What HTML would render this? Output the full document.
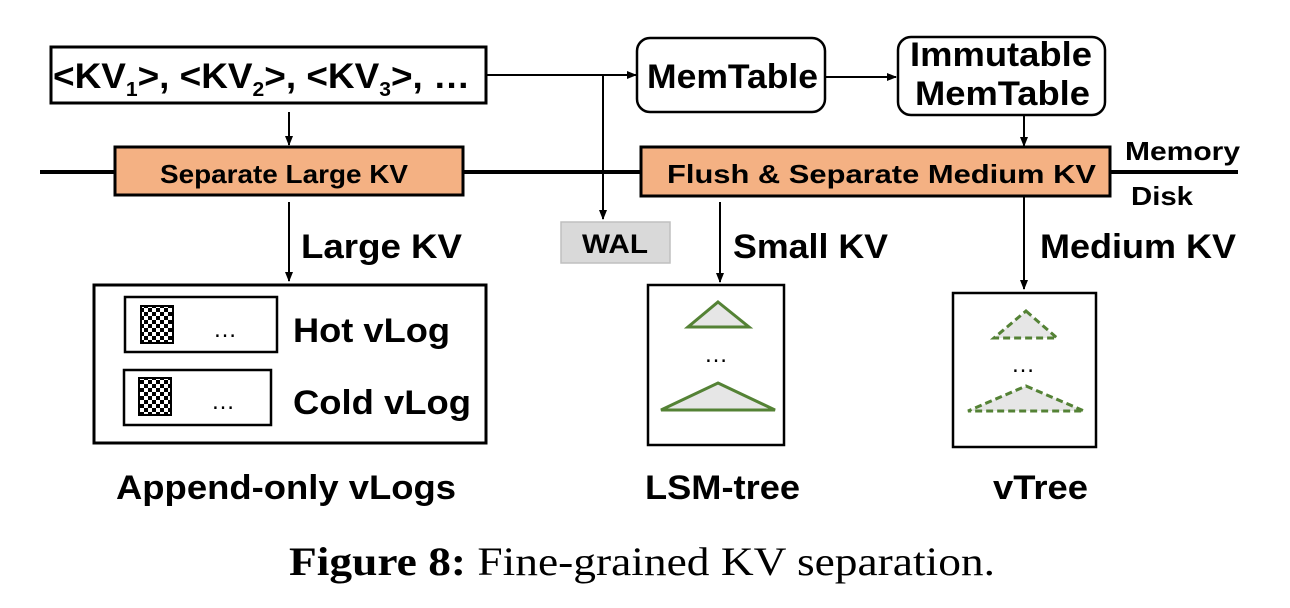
<!DOCTYPE html>
<html><head><meta charset="utf-8"><style>
html,body{margin:0;padding:0;background:#fff;width:1290px;height:608px;overflow:hidden}
svg{display:block}
text{font-family:"Liberation Sans",Arial,sans-serif;font-weight:bold;fill:#000}
</style></head><body>
<svg width="1290" height="608" viewBox="0 0 1290 608" xmlns="http://www.w3.org/2000/svg">
<defs>
<marker id="ah" markerWidth="10" markerHeight="10" refX="9" refY="5" orient="auto" markerUnits="userSpaceOnUse">
<path d="M0,1 L10,5 L0,9 z" fill="#000"/></marker>
<pattern id="ck" width="8" height="8" patternUnits="userSpaceOnUse">
<rect width="8" height="8" fill="#fff"/><rect width="4" height="4" fill="#000"/><rect x="4" y="4" width="4" height="4" fill="#000"/></pattern>
</defs>

<line x1="40" y1="172" x2="1238" y2="172" stroke="#000" stroke-width="4"/>

<rect x="51" y="47" width="435" height="56" fill="#fff" stroke="#000" stroke-width="3"/>
<text x="53" y="88" font-size="35" textLength="417" lengthAdjust="spacingAndGlyphs">&lt;KV<tspan font-size="20" dy="8">1</tspan><tspan dy="-8">&gt;, &lt;KV</tspan><tspan font-size="20" dy="8">2</tspan><tspan dy="-8">&gt;, &lt;KV</tspan><tspan font-size="20" dy="8">3</tspan><tspan dy="-8">&gt;, …</tspan></text>

<line x1="486" y1="75" x2="636" y2="75" stroke="#000" stroke-width="2" marker-end="url(#ah)"/>
<line x1="603" y1="75" x2="603" y2="219" stroke="#000" stroke-width="2" marker-end="url(#ah)"/>
<line x1="826" y1="77" x2="896" y2="77" stroke="#000" stroke-width="2" marker-end="url(#ah)"/>
<line x1="1024" y1="115" x2="1024" y2="146" stroke="#000" stroke-width="2" marker-end="url(#ah)"/>
<line x1="289" y1="112" x2="289" y2="145" stroke="#000" stroke-width="2" marker-end="url(#ah)"/>

<rect x="637" y="38" width="188" height="74" rx="13" fill="#fff" stroke="#000" stroke-width="2.5"/>
<text x="647" y="88" font-size="34" textLength="171" lengthAdjust="spacingAndGlyphs">MemTable</text>
<rect x="898" y="37" width="207" height="78" rx="13" fill="#fff" stroke="#000" stroke-width="2.5"/>
<text x="910" y="66" font-size="34" textLength="182" lengthAdjust="spacingAndGlyphs">Immutable</text>
<text x="915" y="105" font-size="34" textLength="175" lengthAdjust="spacingAndGlyphs">MemTable</text>

<rect x="115" y="147" width="348" height="48" fill="#f4b183" stroke="#000" stroke-width="3"/>
<text x="160" y="183" font-size="26" textLength="248" lengthAdjust="spacingAndGlyphs">Separate Large KV</text>
<rect x="641" y="147" width="469" height="49" fill="#f4b183" stroke="#000" stroke-width="3"/>
<text x="667" y="183" font-size="26" textLength="429" lengthAdjust="spacingAndGlyphs">Flush  &amp; Separate Medium KV</text>

<text x="1125" y="160" font-size="26" textLength="115" lengthAdjust="spacingAndGlyphs">Memory</text>
<text x="1131" y="205" font-size="26" textLength="62" lengthAdjust="spacingAndGlyphs">Disk</text>

<rect x="561" y="222" width="109" height="41" fill="#d9d9d9" stroke="#bfbfbf" stroke-width="1.5"/>
<text x="582" y="253" font-size="27" textLength="66" lengthAdjust="spacingAndGlyphs">WAL</text>

<line x1="289" y1="202" x2="289" y2="281" stroke="#000" stroke-width="2" marker-end="url(#ah)"/>
<line x1="720" y1="202" x2="720" y2="282" stroke="#000" stroke-width="2" marker-end="url(#ah)"/>
<line x1="1024" y1="196" x2="1024" y2="289" stroke="#000" stroke-width="2" marker-end="url(#ah)"/>

<text x="301" y="258" font-size="34" textLength="161" lengthAdjust="spacingAndGlyphs">Large KV</text>
<text x="733" y="258" font-size="34" textLength="155" lengthAdjust="spacingAndGlyphs">Small KV</text>
<text x="1040" y="258" font-size="34" textLength="196" lengthAdjust="spacingAndGlyphs">Medium KV</text>

<rect x="94" y="285" width="392" height="158" fill="#fff" stroke="#000" stroke-width="3"/>
<rect x="125" y="297" width="152" height="55" fill="#fff" stroke="#000" stroke-width="2.5"/>
<rect x="141" y="306" width="32" height="37" fill="url(#ck)" stroke="#000" stroke-width="2"/>
<text x="213" y="337" font-size="24" style="font-weight:normal">…</text>
<rect x="124" y="370" width="147" height="55" fill="#fff" stroke="#000" stroke-width="2.5"/>
<rect x="139" y="378" width="32" height="37" fill="url(#ck)" stroke="#000" stroke-width="2"/>
<text x="211" y="409" font-size="24" style="font-weight:normal">…</text>
<text x="293" y="342" font-size="34" textLength="157" lengthAdjust="spacingAndGlyphs">Hot vLog</text>
<text x="293" y="414" font-size="34" textLength="178" lengthAdjust="spacingAndGlyphs">Cold vLog</text>

<rect x="648" y="285" width="136" height="160" fill="#fff" stroke="#000" stroke-width="2.5"/>
<polygon points="718,302 749,327 688,327" fill="#e6e6e6" stroke="#548235" stroke-width="3"/>
<text x="704" y="362" font-size="24" style="font-weight:normal">…</text>
<polygon points="718,383 775,410 661,410" fill="#e6e6e6" stroke="#548235" stroke-width="3"/>

<rect x="953" y="293" width="143" height="154" fill="#fff" stroke="#000" stroke-width="2.5"/>
<polygon points="1026,311 1057,338 994,338" fill="#e6e6e6" stroke="#548235" stroke-width="3" stroke-dasharray="7,4"/>
<text x="1011" y="372" font-size="24" style="font-weight:normal">…</text>
<polygon points="1026,386 1084,411 968,411" fill="#e6e6e6" stroke="#548235" stroke-width="3" stroke-dasharray="7,4"/>

<text x="116" y="499" font-size="34" textLength="340" lengthAdjust="spacingAndGlyphs">Append-only vLogs</text>
<text x="645" y="499" font-size="34" textLength="155" lengthAdjust="spacingAndGlyphs">LSM-tree</text>
<text x="993" y="499" font-size="34" textLength="95" lengthAdjust="spacingAndGlyphs">vTree</text>

<text x="289" y="575" font-size="40" style="font-family:'Liberation Serif',serif;font-weight:normal" textLength="706" lengthAdjust="spacingAndGlyphs"><tspan font-weight="bold">Figure 8:</tspan> Fine-grained KV separation.</text>
</svg>
</body></html>
